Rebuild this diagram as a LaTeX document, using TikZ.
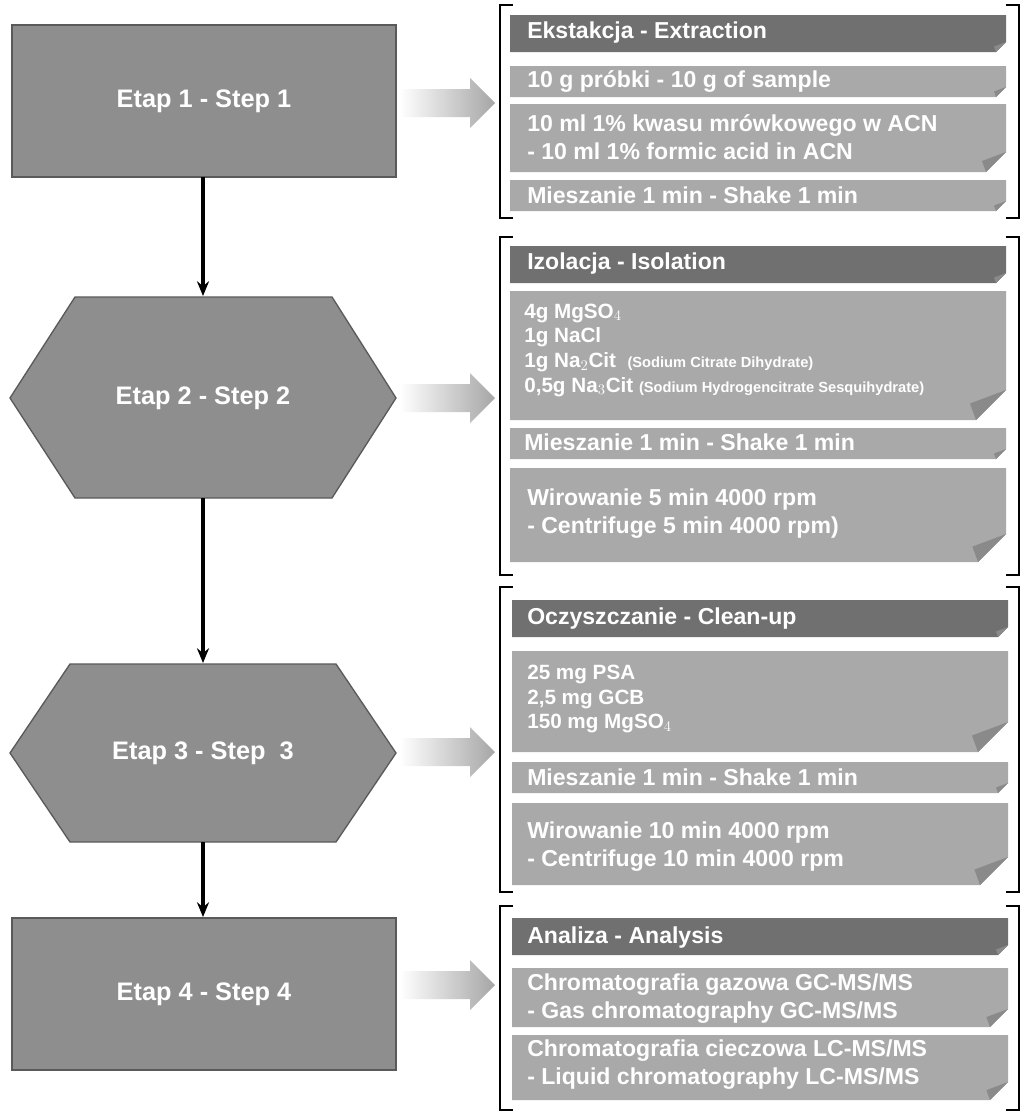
\documentclass[tikz,border=0pt]{standalone}
\usepackage{fontspec}
\setmainfont{Liberation Sans}
\usetikzlibrary{arrows.meta}
\definecolor{stepfill}{HTML}{8E8E8E}
\definecolor{stepdraw}{HTML}{5A5A5A}
\definecolor{hdr}{HTML}{707070}
\definecolor{itm}{HTML}{A9A9A9}
\definecolor{fold}{HTML}{8A8A8A}
\tikzset{
  x=0.75pt,y=-0.75pt,
  steptext/.style={text=white,font=\bfseries\fontsize{19}{22}\selectfont},
  ptext/.style={text=white,font=\bfseries\fontsize{17.3}{21}\selectfont,anchor=west,align=left,inner sep=0pt},
  stxt/.style={text=white,font=\bfseries\fontsize{15.5}{18.5}\selectfont,anchor=west,align=left,inner sep=0pt},
  flow/.style={-{Stealth[length=11pt,width=9pt]},line width=2.4pt,black},
  brk/.style={line width=2.2pt,black},
}
\newcommand\pbox[6]{%
  \fill[#6] (#1,#2) -- (#3,#2) -- (#3,#4-#5) -- (#3-#5,#4) -- (#1,#4) -- cycle;
  \fill[fold] (#3,#4-#5) -- (#3-#5*1.2,#4-#5*0.55) -- (#3-#5,#4) -- cycle;
}
\newcommand\fatarrow[1]{%
  \shade[left color=white,right color=gray!70] (400,#1-14) -- (470,#1-14) -- (470,#1-25) -- (495,#1) -- (470,#1+25) -- (470,#1+14) -- (400,#1+14) -- cycle;
}
\newcommand\grpbrack[2]{%
  \draw[brk] (513,#1) -- (500,#1) -- (500,#2) -- (513,#2);
  \draw[brk] (1006,#1) -- (1019,#1) -- (1019,#2) -- (1006,#2);
}
\newcommand\paren[1]{{\fontsize{11}{18.5}\selectfont(#1)}}
\begin{document}
\begin{tikzpicture}
\useasboundingbox (0,0) rectangle (1024,1114);
\fill[white] (0,0) rectangle (1024,1114);
\draw[fill=stepfill,draw=stepdraw,line width=1pt] (12,25) rectangle (396,177);
\node[steptext] (s1) at (204,101) {Etap 1 - Step 1};
\draw[fill=stepfill,draw=stepdraw,line width=1pt] (10,398) -- (75,297) -- (332,297) -- (396,398) -- (332,498) -- (75,498) -- cycle;
\node[steptext] (s2) at (203,398) {Etap 2 - Step 2};
\draw[fill=stepfill,draw=stepdraw,line width=1pt] (10,753) -- (70,664) -- (336,664) -- (396,753) -- (336,842) -- (70,842) -- cycle;
\node[steptext] (s3) at (203,753) {Etap 3 - Step \ 3};
\draw[fill=stepfill,draw=stepdraw,line width=1pt] (12,918) rectangle (396,1070);
\node[steptext] (s4) at (204,994) {Etap 4 - Step 4};
\coordinate (a1) at (203,177); \coordinate (b1) at (203,296);
\coordinate (a2) at (203,498); \coordinate (b2) at (203,663);
\coordinate (a3) at (203,842); \coordinate (b3) at (203,917);
\draw[flow] (a1) -- (b1);
\draw[flow] (a2) -- (b2);
\draw[flow] (a3) -- (b3);
\fatarrow{103}\fatarrow{398}\fatarrow{752}\fatarrow{985}
\grpbrack{5}{218}\grpbrack{237}{575}\grpbrack{587}{892}\grpbrack{906}{1110}
\pbox{510}{15}{1006}{52}{10}{hdr}
\node[ptext] (h1) at (527,33) {Ekstakcja - Extraction};
\pbox{510}{66}{1006}{97}{10}{itm}
\node[ptext] (i11) at (527,81) {10 g próbki - 10 g of sample};
\pbox{510}{104}{1006}{172}{20}{itm}
\node[ptext] (i12) at (527,137) {10 ml 1\% kwasu mrówkowego w ACN\\- 10 ml 1\% formic acid in ACN};
\pbox{510}{180}{1006}{211}{10}{itm}
\node[ptext] (i13) at (527,195) {Mieszanie 1 min - Shake 1 min};
\pbox{510}{246}{1006}{283}{10}{hdr}
\node[ptext] (h2) at (527,264) {Izolacja - Isolation};
\pbox{510}{291}{1006}{420}{30}{itm}
\node[stxt] (i21) at (524,350) {4g MgSO$_4$\\1g NaCl\\1g Na$_2$Cit\ \ \paren{Sodium Citrate Dihydrate}\\0,5g Na$_3$Cit \paren{Sodium Hydrogencitrate Sesquihydrate}};
\pbox{510}{428}{1006}{459}{10}{itm}
\node[ptext] (i22) at (524,442) {Mieszanie 1 min - Shake 1 min};
\pbox{510}{468}{1006}{562}{28}{itm}
\node[ptext] (i23) at (527,514) {Wirowanie 5 min 4000 rpm\\- Centrifuge 5 min 4000 rpm)};
\pbox{512}{600}{1008}{637}{10}{hdr}
\node[ptext] (h3) at (527,619) {Oczyszczanie - Clean-up};
\pbox{512}{651}{1008}{752}{30}{itm}
\node[stxt] (i31) at (527,699) {25 mg PSA\\2,5 mg GCB\\150 mg MgSO$_4$};
\pbox{512}{762}{1008}{793}{10}{itm}
\node[ptext] (i32) at (527,777) {Mieszanie 1 min - Shake 1 min};
\pbox{512}{803}{1008}{885}{28}{itm}
\node[ptext] (i33) at (527,847) {Wirowanie 10 min 4000 rpm\\- Centrifuge 10 min 4000 rpm};
\pbox{512}{918}{1008}{955}{10}{hdr}
\node[ptext] (h4) at (527,938) {Analiza - Analysis};
\pbox{512}{968}{1008}{1027}{18}{itm}
\node[ptext] (i41) at (527,999) {Chromatografia gazowa GC-MS/MS\\- Gas chromatography GC-MS/MS};
\pbox{512}{1035}{1008}{1100}{18}{itm}
\node[ptext] (i42) at (527,1065) {Chromatografia cieczowa LC-MS/MS\\- Liquid chromatography LC-MS/MS};
\end{tikzpicture}
\end{document}
